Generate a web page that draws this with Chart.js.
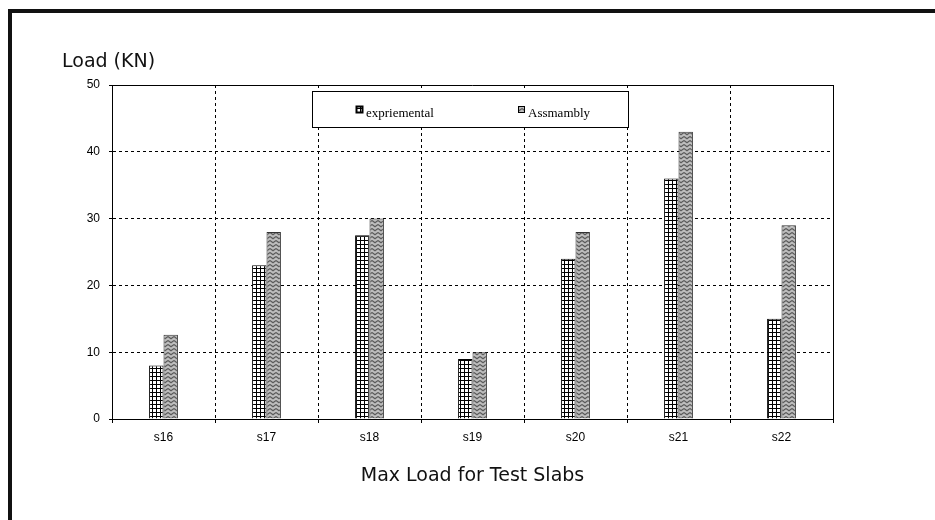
<!DOCTYPE html>
<html>
<head>
<meta charset="utf-8">
<script src="https://cdn.jsdelivr.net/npm/chart.js@4"></script>
<style>
  html, body { margin: 0; padding: 0; background: #fff; }
  #wrap { position: relative; width: 935px; height: 520px; }
</style>
</head>
<body>
<div id="wrap"><canvas id="loadChart" width="935" height="520"></canvas></div>
<script>
// data
const slabs = ['s16', 's17', 's18', 's19', 's20', 's21', 's22'];
const experimental = [8, 23, 27.5, 9, 24, 36, 15];
const assembly = [12.6, 28, 30, 10, 28, 43, 29];
const seriesNames = ['expriemental', 'Assmambly'];
const yTicks = [0, 10, 20, 30, 40, 50];

// small grid pattern (white with black lines)
function gridPattern(ctx) {
    const c = document.createElement('canvas');
    c.width = 4; c.height = 4;
    const g = c.getContext('2d');
    g.fillStyle = '#fff';
    g.fillRect(0, 0, 4, 4);
    g.fillStyle = '#000';
    g.fillRect(0, 0, 4, 1);
    g.fillRect(0, 0, 1, 4);
    return ctx.createPattern(c, 'repeat');
}

// grey zigzag pattern
function wavePattern(ctx) {
    const c = document.createElement('canvas');
    c.width = 6; c.height = 4;
    const g = c.getContext('2d');
    g.fillStyle = '#bdbdbd';
    g.fillRect(0, 0, 6, 4);
    g.strokeStyle = '#5a5a5a';
    g.lineWidth = 1.2;
    g.beginPath();
    g.moveTo(0, 0.5);
    g.lineTo(3, 2.8);
    g.lineTo(6, 0.5);
    g.stroke();
    return ctx.createPattern(c, 'repeat');
}

const ctx = document.getElementById('loadChart').getContext('2d');
const fills = [gridPattern(ctx), wavePattern(ctx)];

// frame, plot border, legend box and y title
const decorPlugin = {
    id: 'decor',
    afterDraw(chart) {
        const c = chart.ctx;
        const a = chart.chartArea;
        c.save();
        // outer frame
        c.fillStyle = '#111';
        c.fillRect(8, 9, 935, 4);
        c.fillRect(8, 9, 4, 520);

        // plot area top and right edges
        c.strokeStyle = '#000';
        c.lineWidth = 1;
        c.beginPath();
        c.moveTo(a.left, a.top + 0.5);
        c.lineTo(a.right + 0.5, a.top + 0.5);
        c.lineTo(a.right + 0.5, a.bottom);
        c.stroke();

        // y title
        c.fillStyle = '#111';
        c.font = '19px "DejaVu Sans"';
        c.textAlign = 'left';
        c.textBaseline = 'alphabetic';
        c.fillText('Load (KN)', 62, 67);

        // legend
        const lx = a.left + 200, ly = a.top + 6;
        c.fillStyle = '#fff';
        c.fillRect(lx + 0.5, ly + 0.5, 316, 36);
        c.strokeRect(lx + 0.5, ly + 0.5, 316, 36);
        c.font = '13px "Liberation Serif"';
        c.textBaseline = 'alphabetic';
        const offs = [44, 206];
        chart.data.datasets.forEach((ds, i) => {
            const mx = lx + offs[i], my = ly + 15;
            c.fillStyle = ds.backgroundColor;
            c.fillRect(mx, my, 7, 7);
            c.lineWidth = i === 0 ? 2 : 1;
            c.strokeStyle = '#000';
            c.strokeRect(mx + 0.5, my + 0.5, 6, 6);
            c.fillStyle = '#000';
            c.fillText(ds.label, mx + 10, my + 11);
        });
        c.restore();
    }
};

new Chart(ctx, {
    type: 'bar',
    data: {
        labels: slabs,
        datasets: [
            {
                label: seriesNames[0],
                data: experimental,
                backgroundColor: fills[0],
                borderColor: '#000',
                borderWidth: 1
            },
            {
                label: seriesNames[1],
                data: assembly,
                backgroundColor: fills[1],
                borderColor: '#333',
                borderWidth: 1
            }
        ]
    },
    options: {
        responsive: false,
        animation: false,
        categoryPercentage: 0.28,
        barPercentage: 1.0,
        layout: { padding: { left: 0, right: 102, top: 85, bottom: 0 } },
        plugins: {
            legend: { display: false },
            tooltip: { enabled: false }
        },
        scales: {
            x: {
                afterFit(scale) { scale.height = 101; },
                grid: {
                    offset: true,
                    color: '#000',
                    lineWidth: 1,
                    tickColor: '#000',
                    tickLength: 4,
                    tickBorderDash: []
                },
                border: { display: true, color: '#000', width: 1, dash: [3, 3] },
                ticks: {
                    color: '#000',
                    padding: 7,
                    font: { family: '"Liberation Sans", Arial', size: 12 }
                },
                title: {
                    display: true,
                    text: 'Max Load for Test Slabs',
                    color: '#111',
                    font: { family: '"DejaVu Sans"', size: 19 },
                    padding: { top: 0, bottom: 33 }
                }
            },
            y: {
                min: 0,
                max: 50,
                afterFit(scale) { scale.width = 112; },
                afterBuildTicks(scale) {
                    scale.ticks = yTicks.map(v => ({ value: v }));
                },
                grid: {
                    color: '#000',
                    lineWidth: 1,
                    tickColor: '#000',
                    tickLength: 3,
                    tickBorderDash: []
                },
                border: { display: true, color: '#000', width: 1, dash: [3, 3] },
                ticks: {
                    color: '#000',
                    padding: 9,
                    font: { family: '"Liberation Sans", Arial', size: 12 }
                }
            }
        }
    },
    plugins: [decorPlugin]
});
</script>
</body>
</html>
